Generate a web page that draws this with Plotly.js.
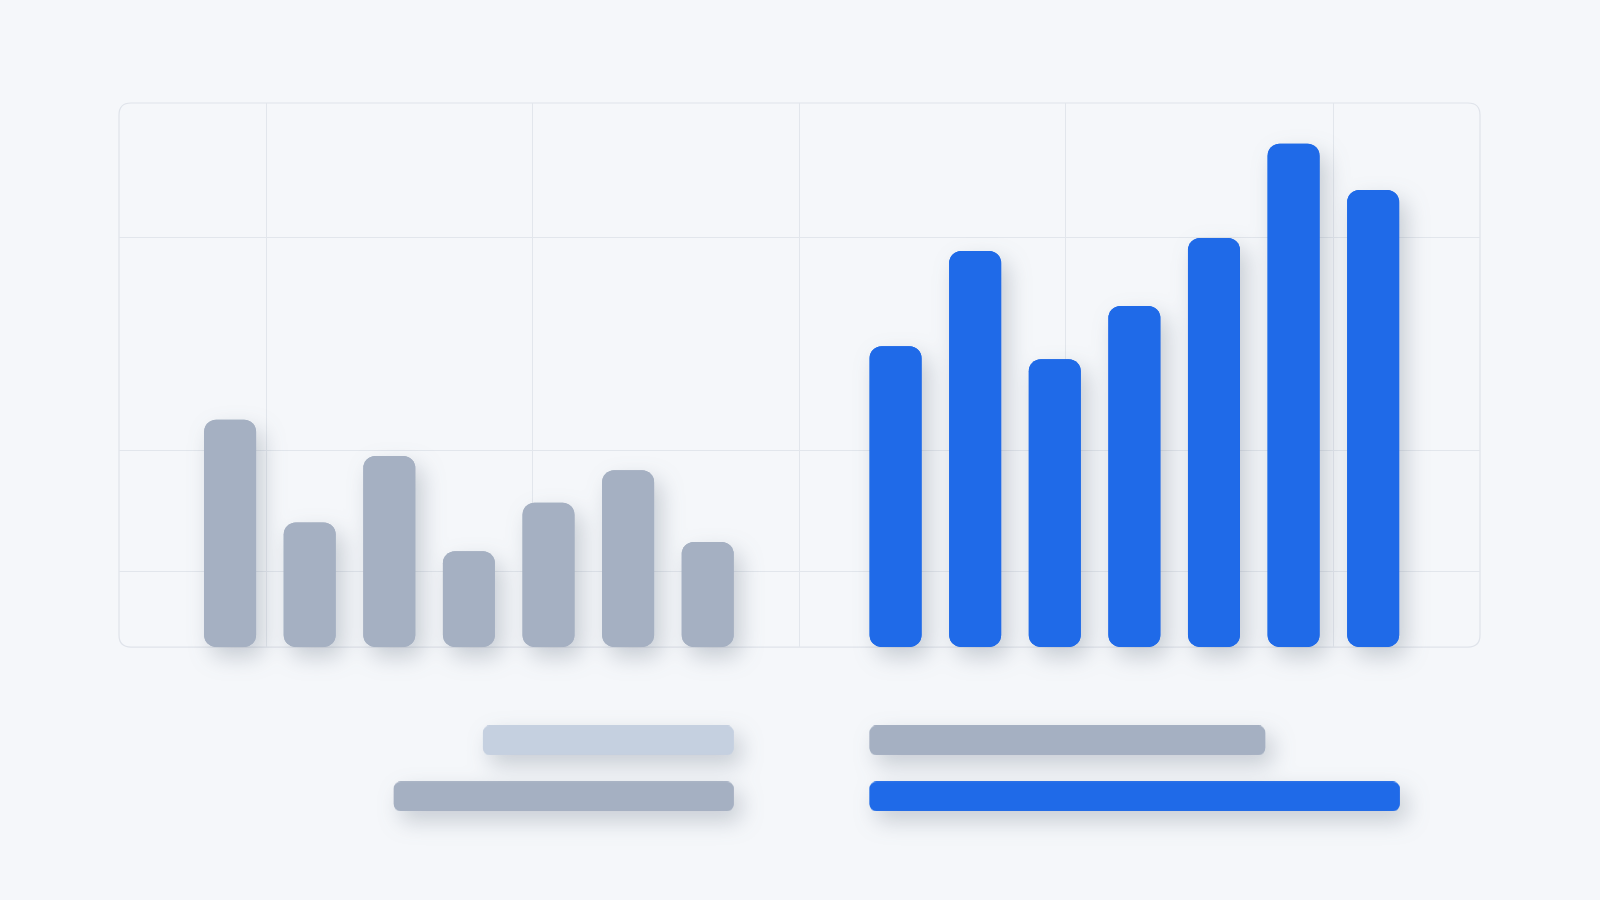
<!DOCTYPE html>
<html>
<head>
<meta charset="utf-8">
<script src="https://cdn.plot.ly/plotly-3.0.1.min.js"></script>
<style>
    html, body { margin: 0; padding: 0; background: #f5f7fa; }
    #chart { width: 1600px; height: 900px; }
    /* soft drop shadow under every bar */
    #chart .barlayer { filter: drop-shadow(7px 10px 11px rgba(71, 85, 105, 0.26)); }
</style>
</head>
<body>
<div id="chart"></div>
<script>
// ============================================================================
// Data
// ============================================================================

// Left group (gray) and right group (blue) column heights
var grayPos = [1, 2, 3, 4, 5, 6, 7];
var grayValues = [41.8, 22.9, 35.1, 17.6, 26.5, 32.5, 19.3];

var bluePos = [9.36, 10.36, 11.36, 12.36, 13.36, 14.36, 15.36];
var blueValues = [55.3, 72.8, 52.9, 62.7, 75.2, 92.5, 84.0];

// Lower summary rows: row 1 on top, row 0 below
var summaryRows = [1, 0];
var leftLengths = [3.15, 4.27];      // extend leftwards
var rightLengths = [4.97, 6.66];     // extend rightwards
var leftColors = ["#c5d0e0", "#a5b0c2"];
var rightColors = ["#a5b0c2", "#1f6ae8"];

// Grid positions
var xGrid = [1.451, 4.805, 8.147, 11.50, 14.856];
var yGrid = [13.8, 36.2, 75.2];

// ============================================================================
// Traces
// ============================================================================

var GRAY = "#a5b0c2";
var BLUE = "#1f6ae8";
var BAR_W = 0.653;

// A column rounded on both ends is made of two full-height bars on top of
// each other: one grows up from 0 (rounded top), one grows down from the
// value (rounded bottom)
function columnTraces(pos, values, color) {
    var up = {
        type: "bar",
        x: pos,
        y: values,
        base: values.map(function () { return 0; }),
        width: BAR_W,
        cliponaxis: false,
        marker: { color: color, cornerradius: 12, line: { width: 0 } },
        hoverinfo: "skip"
    };
    var down = {
        type: "bar",
        x: pos,
        y: values.map(function (v) { return -v; }),
        base: values,
        width: BAR_W,
        cliponaxis: false,
        marker: { color: color, cornerradius: 12, line: { width: 0 } },
        hoverinfo: "skip"
    };
    return [up, down];
}

// Horizontal pill bars starting at an anchor, going left (dir -1) or right (dir 1)
function rowTraces(anchor, lengths, colors, dir) {
    var out = {
        type: "bar",
        orientation: "h",
        xaxis: "x2",
        yaxis: "y2",
        y: summaryRows,
        x: lengths.map(function (l) { return dir * l; }),
        base: lengths.map(function () { return anchor; }),
        width: 0.528,
        cliponaxis: false,
        marker: { color: colors, cornerradius: 7, line: { width: 0 } },
        hoverinfo: "skip"
    };
    var back = {
        type: "bar",
        orientation: "h",
        xaxis: "x2",
        yaxis: "y2",
        y: summaryRows,
        x: lengths.map(function (l) { return -dir * l; }),
        base: lengths.map(function (l) { return anchor + dir * l; }),
        width: 0.528,
        cliponaxis: false,
        marker: { color: colors, cornerradius: 7, line: { width: 0 } },
        hoverinfo: "skip"
    };
    return [out, back];
}

var traces = []
    .concat(columnTraces(grayPos, grayValues, GRAY))
    .concat(columnTraces(bluePos, blueValues, BLUE))
    .concat(rowTraces(7 + BAR_W / 2, leftLengths, leftColors, -1))
    .concat(rowTraces(9.36 - BAR_W / 2, rightLengths, rightColors, 1));

// ============================================================================
// Layout
// ============================================================================

var xRange = [-0.3957, 16.702];

// Rounded frame around the main plot, in paper units
var rx = 0.0088, ry = 0.0157, y0 = 0.2907, y1 = 1;
var framePath = "M " + rx + "," + y0 +
    " L " + (1 - rx) + "," + y0 + " Q 1," + y0 + " 1," + (y0 + ry) +
    " L 1," + (y1 - ry) + " Q 1," + y1 + " " + (1 - rx) + "," + y1 +
    " L " + rx + "," + y1 + " Q 0," + y1 + " 0," + (y1 - ry) +
    " L 0," + (y0 + ry) + " Q 0," + y0 + " " + rx + "," + y0 + " Z";

var layout = {
    width: 1600,
    height: 900,
    margin: { l: 119, r: 120, t: 103, b: 30 },
    paper_bgcolor: "#f5f7fa",
    plot_bgcolor: "rgba(0,0,0,0)",
    barmode: "overlay",
    showlegend: false,
    xaxis: {
        range: xRange,
        domain: [0, 1],
        anchor: "y",
        tickvals: xGrid,
        showticklabels: false,
        ticks: "",
        showgrid: true,
        gridcolor: "#e2e6ec",
        gridwidth: 1,
        zeroline: false,
        showline: false,
        fixedrange: true
    },
    yaxis: {
        range: [0, 100],
        domain: [y0, 1],
        anchor: "x",
        tickvals: yGrid,
        showticklabels: false,
        ticks: "",
        showgrid: true,
        gridcolor: "#e2e6ec",
        gridwidth: 1,
        zeroline: false,
        showline: false,
        fixedrange: true
    },
    xaxis2: {
        range: xRange,
        domain: [0, 1],
        anchor: "y2",
        visible: false,
        fixedrange: true
    },
    yaxis2: {
        range: [-1.312, 1.604],
        domain: [0, 0.2133],
        anchor: "x2",
        visible: false,
        fixedrange: true
    },
    shapes: [{
        type: "path",
        xref: "paper",
        yref: "paper",
        path: framePath,
        line: { color: "#dfe3ea", width: 1.2 },
        fillcolor: "rgba(0,0,0,0)",
        layer: "below"
    }]
};

var config = { displayModeBar: false, staticPlot: true };

Plotly.newPlot("chart", traces, layout, config);
</script>
</body>
</html>
